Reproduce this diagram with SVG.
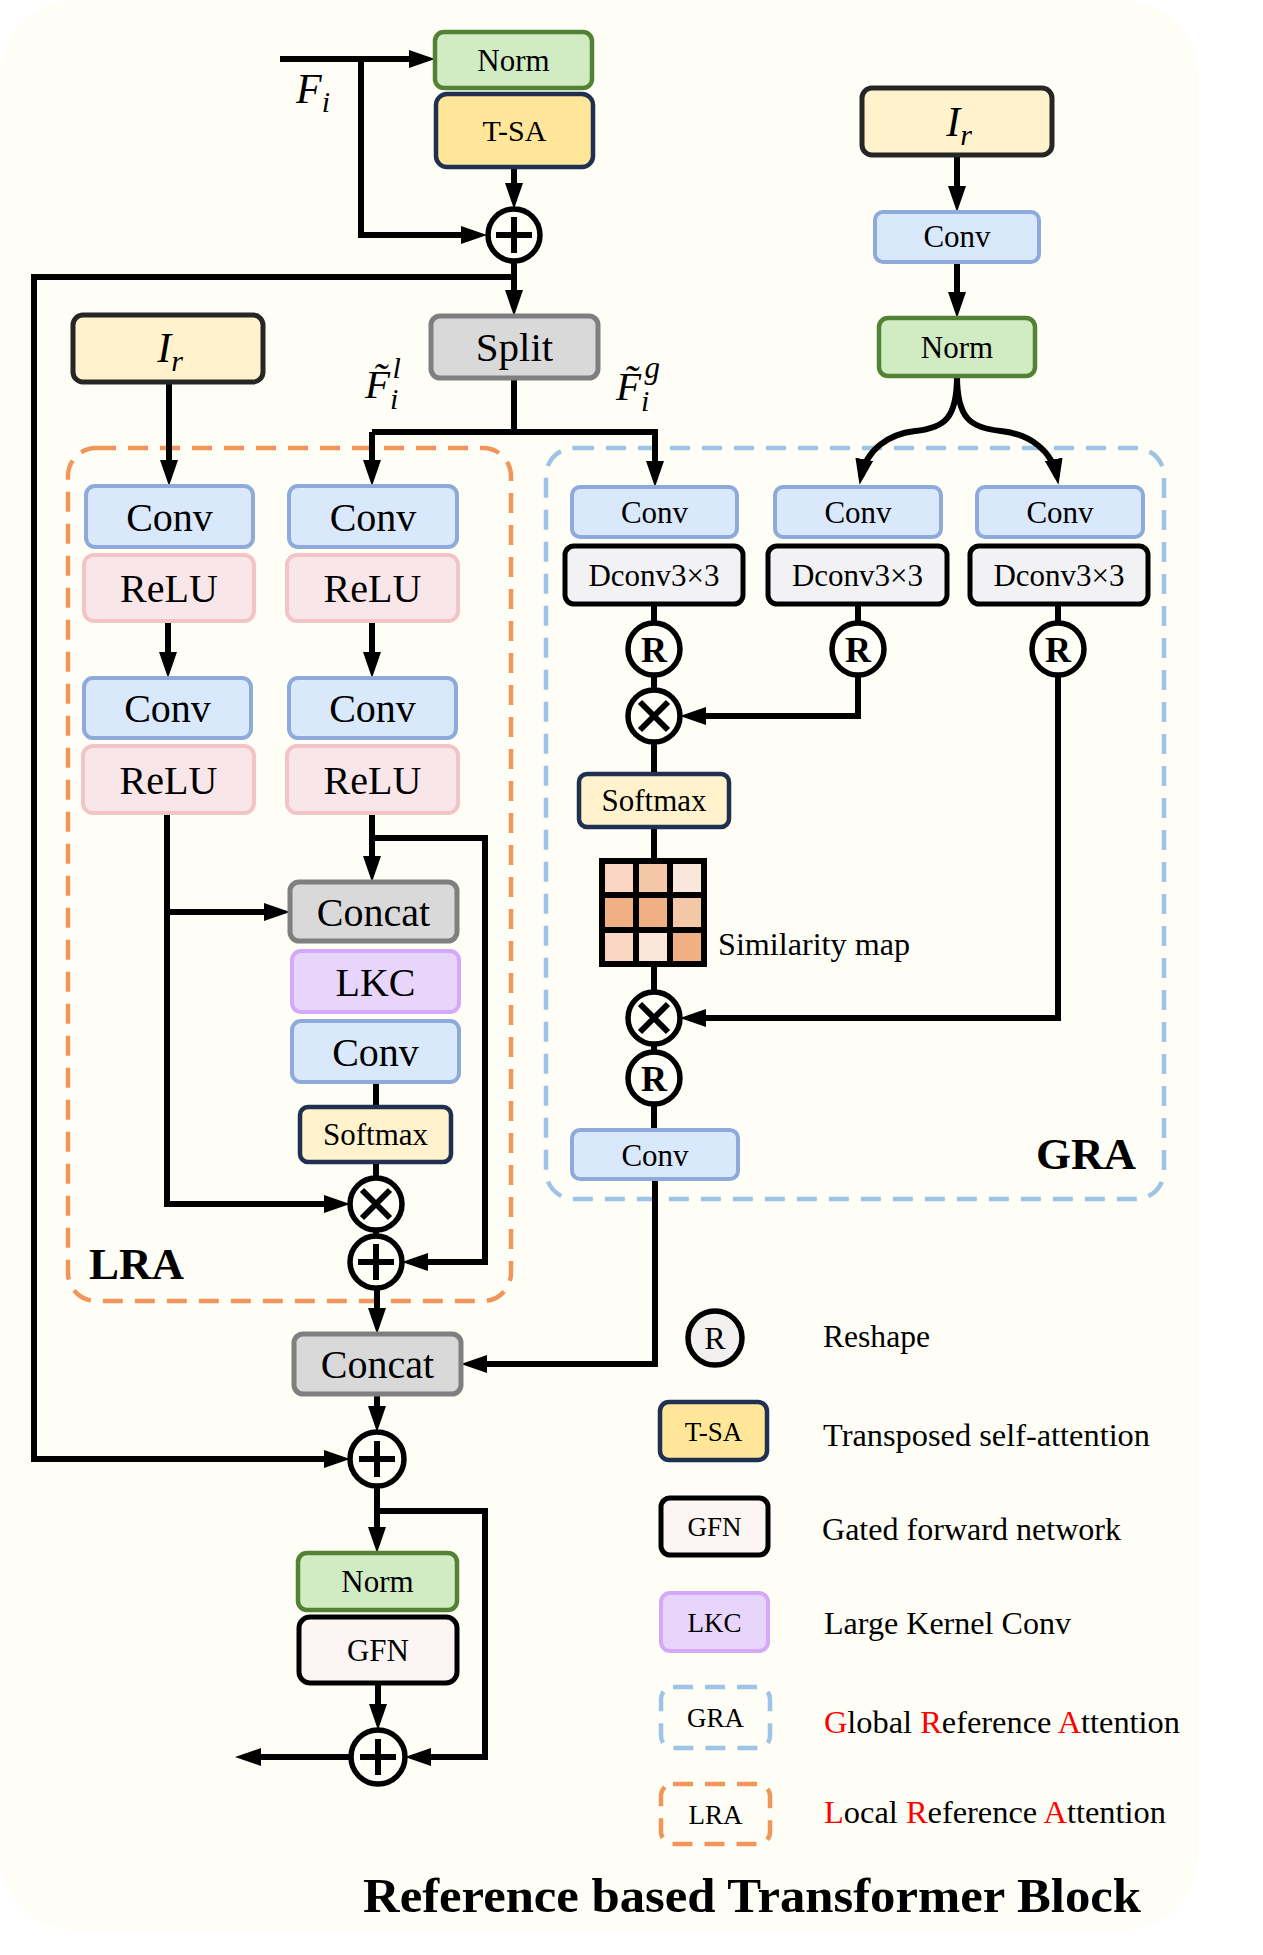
<svg xmlns="http://www.w3.org/2000/svg" width="1263" height="1955" viewBox="0 0 1263 1955">
<defs>
<marker id="ah" viewBox="0 0 26 18" refX="18" refY="9" markerWidth="26" markerHeight="18" markerUnits="userSpaceOnUse" orient="auto"><path d="M0,0 L26,9 L0,18 z" fill="#000"/></marker>
<style>
.ln{fill:none;stroke:#000;stroke-width:6}
.ar{marker-end:url(#ah)}
.conv{fill:#dae8fc;stroke:#8eaadb;stroke-width:4}
.relu{fill:#f9e6e8;stroke:#f2c4c8;stroke-width:4}
.norm{fill:#d1ebc3;stroke:#548235;stroke-width:4.5}
.tsa{fill:#ffe699;stroke:#1f3050;stroke-width:4.5}
.soft{fill:#fff2cc;stroke:#1f3050;stroke-width:4.5}
.ir{fill:#fff2cc;stroke:#262626;stroke-width:5}
.gray{fill:#d9d9d9;stroke:#7f7f7f;stroke-width:5}
.lkc{fill:#e8d5fc;stroke:#d5a8f9;stroke-width:4}
.dconv{fill:#f2f2f4;stroke:#000;stroke-width:5}
.gfn{fill:#fdf5f3;stroke:#000;stroke-width:5}
.op{fill:#fffff8;stroke:#000;stroke-width:5.5}
.sym{fill:none;stroke:#000;stroke-width:6}
.dsh-o{fill:none;stroke:#f0965a;stroke-width:4.5;stroke-dasharray:20 12}
.dsh-b{fill:none;stroke:#9dc3e6;stroke-width:4.5;stroke-dasharray:20 12}
.t{font-family:"Liberation Serif","Times New Roman",serif;text-anchor:middle;fill:#000}
.ts{font-family:"Liberation Serif","Times New Roman",serif;fill:#000}
.m{font-family:"Liberation Serif","Times New Roman",serif;font-style:italic;fill:#000}
.red{fill:#ff0000}
</style>
</defs>
<rect x="0" y="0" width="1263" height="1955" fill="#ffffff"/>
<rect x="0" y="0" width="1198" height="1930" rx="75" fill="#fefef6"/>

<!-- containers -->
<g id="LRA-box">
<rect class="dsh-o" x="68" y="448" width="443" height="853" rx="28"/>
<text class="ts" x="89" y="1279" font-size="45" font-weight="bold">LRA</text>
</g>
<g id="GRA-box">
<rect class="dsh-b" x="546" y="448" width="618" height="751" rx="28"/>
<text class="ts" x="1036" y="1169" font-size="45" font-weight="bold">GRA</text>
</g>

<!-- connectors -->
<g id="connectors">
<path class="ln ar" d="M280,59 H427"/>
<path class="ln ar" d="M361,59 V235 H479"/>
<path class="ln ar" d="M514,167 V201"/>
<path class="ln ar" d="M514,261 V308"/>
<path class="ln ar" d="M514,277 H34 V1459 H342"/>
<path class="ln" d="M514,378 V432"/>
<path class="ln ar" d="M372,432 H655 V479"/>
<path class="ln ar" d="M372,432 V478"/>
<path class="ln ar" d="M169,382 V478"/>
<path class="ln ar" d="M168,621 V670"/>
<path class="ln ar" d="M372,621 V670"/>
<path class="ln ar" d="M372,813 V874"/>
<path class="ln ar" d="M372,838 H485 V1262 H410"/>
<path class="ln ar" d="M167,813 V1204 H342"/>
<path class="ln ar" d="M167,912 H282"/>
<path class="ln" d="M376,1082 V1107"/>
<path class="ln" d="M376,1162 V1178"/>
<path class="ln" d="M376,1230 V1236"/>
<path class="ln ar" d="M377,1288 V1326"/>
<path class="ln ar" d="M655,1179 V1364 H469"/>
<path class="ln ar" d="M377,1394 V1424"/>
<path class="ln ar" d="M377,1486 V1545"/>
<path class="ln ar" d="M377,1511 H485 V1757 H413"/>
<path class="ln ar" d="M378,1683 V1722"/>
<path class="ln ar" d="M351,1757 H243"/>
<path class="ln" d="M654,604 V623 M858,604 V623 M1058,604 V623"/>
<path class="ln" d="M654,675 V690"/>
<path class="ln ar" d="M858,675 V716 H688"/>
<path class="ln" d="M654,742 V774"/>
<path class="ln" d="M654,827 V858"/>
<path class="ln" d="M654,967 V992"/>
<path class="ln ar" d="M1058,675 V1018 H688"/>
<path class="ln" d="M654,1044 V1052"/>
<path class="ln" d="M654,1104 V1130"/>
<path class="ln ar" d="M957,155 V204"/>
<path class="ln ar" d="M957,262 V310"/>
<path class="ln ar" d="M957,376 C957,418 945,428 915,431 C888,434 866,450 861,477"/>
<path class="ln ar" d="M957,376 C957,418 970,428 1001,431 C1029,434 1052,450 1057,477"/>
</g>

<!-- labels -->
<g id="label-Fi">
<text class="m" x="296" y="103" font-size="42">F<tspan font-size="30" dy="9">i</tspan></text>
</g>
<g id="label-Fl">
<text class="m" x="365" y="398" font-size="41">F̃<tspan font-size="30" dy="11">i</tspan><tspan font-size="30" dx="-6" dy="-31">l</tspan></text>
</g>
<g id="label-Fg">
<text class="m" x="616" y="400" font-size="41">F̃<tspan font-size="30" dy="11">i</tspan><tspan font-size="31" dx="-5" dy="-33">g</tspan></text>
</g>

<!-- top nodes -->
<g id="norm-top"><rect class="norm" x="435" y="32" width="157" height="56" rx="9"/><text class="t" x="513.5" y="71" font-size="31">Norm</text></g>
<g id="tsa-top"><rect class="tsa" x="436" y="94" width="157" height="73" rx="11"/><text class="t" x="514.5" y="141" font-size="30">T-SA</text></g>
<g id="add-top"><circle class="op" cx="514" cy="235" r="26"/><path class="sym" d="M496,235 H532 M514,217 V253"/></g>
<g id="split"><rect class="gray" x="431" y="316" width="167" height="62" rx="9"/><text class="t" x="514.5" y="361" font-size="41">Split</text></g>
<g id="ir-left"><rect class="ir" x="73" y="315" width="190" height="67" rx="10"/><text class="m" x="170" y="362" font-size="42" text-anchor="middle">I<tspan font-size="30" dy="9">r</tspan></text></g>
<g id="ir-right"><rect class="ir" x="862" y="88" width="190" height="67" rx="10"/><text class="m" x="959" y="136" font-size="42" text-anchor="middle">I<tspan font-size="30" dy="9">r</tspan></text></g>
<g id="conv-right"><rect class="conv" x="875" y="212" width="164" height="50" rx="8"/><text class="t" x="957" y="247" font-size="31">Conv</text></g>
<g id="norm-right"><rect class="norm" x="879" y="318" width="156" height="58" rx="9"/><text class="t" x="957" y="358" font-size="31">Norm</text></g>

<!-- LRA nodes -->
<g id="lra-conv-l1"><rect class="conv" x="86" y="486" width="167" height="61" rx="9"/><text class="t" x="169.5" y="530.5" font-size="40">Conv</text></g>
<g id="lra-relu-l1"><rect class="relu" x="84" y="555" width="170" height="66" rx="10"/><text class="t" x="169" y="602" font-size="40">ReLU</text></g>
<g id="lra-conv-l2"><rect class="conv" x="84" y="678" width="167" height="60" rx="9"/><text class="t" x="167.5" y="722" font-size="40">Conv</text></g>
<g id="lra-relu-l2"><rect class="relu" x="83" y="746" width="171" height="67" rx="10"/><text class="t" x="168.5" y="793.5" font-size="40">ReLU</text></g>
<g id="lra-conv-r1"><rect class="conv" x="289" y="486" width="168" height="61" rx="9"/><text class="t" x="373" y="530.5" font-size="40">Conv</text></g>
<g id="lra-relu-r1"><rect class="relu" x="287" y="555" width="171" height="66" rx="10"/><text class="t" x="372.5" y="602" font-size="40">ReLU</text></g>
<g id="lra-conv-r2"><rect class="conv" x="289" y="678" width="167" height="60" rx="9"/><text class="t" x="372.5" y="722" font-size="40">Conv</text></g>
<g id="lra-relu-r2"><rect class="relu" x="287" y="746" width="171" height="67" rx="10"/><text class="t" x="372.5" y="793.5" font-size="40">ReLU</text></g>
<g id="lra-concat"><rect class="gray" x="290" y="882" width="167" height="59" rx="9"/><text class="t" x="373.5" y="925.5" font-size="40">Concat</text></g>
<g id="lra-lkc"><rect class="lkc" x="292" y="951" width="167" height="61" rx="9"/><text class="t" x="375.5" y="995.5" font-size="40">LKC</text></g>
<g id="lra-conv3"><rect class="conv" x="292" y="1021" width="167" height="61" rx="9"/><text class="t" x="375.5" y="1065.5" font-size="40">Conv</text></g>
<g id="lra-softmax"><rect class="soft" x="300" y="1107" width="151" height="55" rx="8"/><text class="t" x="375.5" y="1145" font-size="31">Softmax</text></g>
<g id="lra-mul"><circle class="op" cx="376" cy="1204" r="26"/><path class="sym" d="M362,1190 L390,1218 M390,1190 L362,1218"/></g>
<g id="lra-add"><circle class="op" cx="376" cy="1262" r="26"/><path class="sym" d="M358,1262 H394 M376,1244 V1280"/></g>

<!-- bottom nodes -->
<g id="concat"><rect class="gray" x="294" y="1334" width="167" height="60" rx="9"/><text class="t" x="377.5" y="1378" font-size="40">Concat</text></g>
<g id="add-mid"><circle class="op" cx="377" cy="1459" r="27"/><path class="sym" d="M359,1459 H395 M377,1441 V1477"/></g>
<g id="norm-bottom"><rect class="norm" x="298" y="1553" width="159" height="57" rx="9"/><text class="t" x="377.5" y="1592" font-size="31">Norm</text></g>
<g id="gfn"><rect class="gfn" x="299" y="1617" width="158" height="66" rx="11"/><text class="t" x="378" y="1661" font-size="31">GFN</text></g>
<g id="add-bottom"><circle class="op" cx="378" cy="1757" r="27"/><path class="sym" d="M360,1757 H396 M378,1739 V1775"/></g>

<!-- GRA nodes -->
<g id="gra-conv1"><rect class="conv" x="572" y="487" width="165" height="50" rx="8"/><text class="t" x="654.5" y="523" font-size="31">Conv</text></g>
<g id="gra-conv2"><rect class="conv" x="775" y="487" width="166" height="50" rx="8"/><text class="t" x="858" y="523" font-size="31">Conv</text></g>
<g id="gra-conv3"><rect class="conv" x="977" y="487" width="166" height="50" rx="8"/><text class="t" x="1060" y="523" font-size="31">Conv</text></g>
<g id="gra-dconv1"><rect class="dconv" x="565" y="546" width="178" height="58" rx="9"/><text class="t" x="654" y="586" font-size="31">Dconv3×3</text></g>
<g id="gra-dconv2"><rect class="dconv" x="768" y="546" width="179" height="58" rx="9"/><text class="t" x="857.5" y="586" font-size="31">Dconv3×3</text></g>
<g id="gra-dconv3"><rect class="dconv" x="970" y="546" width="178" height="58" rx="9"/><text class="t" x="1059" y="586" font-size="31">Dconv3×3</text></g>
<g id="gra-r1"><circle class="op" cx="654" cy="649" r="26"/><text class="t" x="654" y="661.5" font-size="36" font-weight="bold">R</text></g>
<g id="gra-r2"><circle class="op" cx="858" cy="649" r="26"/><text class="t" x="858" y="661.5" font-size="36" font-weight="bold">R</text></g>
<g id="gra-r3"><circle class="op" cx="1058" cy="649" r="26"/><text class="t" x="1058" y="661.5" font-size="36" font-weight="bold">R</text></g>
<g id="gra-mul1"><circle class="op" cx="654" cy="716" r="26"/><path class="sym" d="M640,702 L668,730 M668,702 L640,730"/></g>
<g id="gra-softmax"><rect class="soft" x="579" y="774" width="150" height="53" rx="8"/><text class="t" x="654" y="811" font-size="31">Softmax</text></g>
<g id="similarity-map">
<rect x="599" y="858" width="108" height="109" fill="#000"/>
<rect x="605" y="864" width="28" height="28" fill="#f8d6c3"/>
<rect x="639" y="864" width="28" height="28" fill="#f4c7a6"/>
<rect x="673" y="864" width="28" height="28" fill="#fbe6dc"/>
<rect x="605" y="898" width="28" height="29" fill="#f0b084"/>
<rect x="639" y="898" width="28" height="29" fill="#f0b084"/>
<rect x="673" y="898" width="28" height="29" fill="#f4c7a6"/>
<rect x="605" y="933" width="28" height="28" fill="#f8d6c3"/>
<rect x="639" y="933" width="28" height="28" fill="#fbe6dc"/>
<rect x="673" y="933" width="28" height="28" fill="#f0b084"/>
<text class="ts" x="718" y="955" font-size="31" textLength="192" lengthAdjust="spacingAndGlyphs">Similarity map</text>
</g>
<g id="gra-mul2"><circle class="op" cx="654" cy="1018" r="26"/><path class="sym" d="M640,1004 L668,1032 M668,1004 L640,1032"/></g>
<g id="gra-r4"><circle class="op" cx="654" cy="1078" r="26"/><text class="t" x="654" y="1090.5" font-size="36" font-weight="bold">R</text></g>
<g id="gra-conv4"><rect class="conv" x="572" y="1130" width="166" height="49" rx="8"/><text class="t" x="655" y="1165.5" font-size="31">Conv</text></g>

<!-- legend -->
<g id="legend">
<circle cx="715" cy="1338" r="27" fill="#f2f0ee" stroke="#000" stroke-width="5.5"/>
<text class="t" x="715" y="1349" font-size="32">R</text>
<text class="ts" x="823" y="1347" font-size="31.5" textLength="107" lengthAdjust="spacingAndGlyphs">Reshape</text>
<rect class="tsa" x="660" y="1402" width="107" height="58" rx="9"/>
<text class="t" x="713.5" y="1440.5" font-size="27">T-SA</text>
<text class="ts" x="823" y="1446" font-size="31.5" textLength="327" lengthAdjust="spacingAndGlyphs">Transposed self-attention</text>
<rect class="gfn" x="661" y="1498" width="107" height="57" rx="9"/>
<text class="t" x="714.5" y="1536" font-size="27">GFN</text>
<text class="ts" x="822" y="1540" font-size="31.5" textLength="299" lengthAdjust="spacingAndGlyphs">Gated forward network</text>
<rect class="lkc" x="661" y="1593" width="107" height="58" rx="9"/>
<text class="t" x="714.5" y="1631.5" font-size="27">LKC</text>
<text class="ts" x="824" y="1634" font-size="31.5" textLength="247" lengthAdjust="spacingAndGlyphs">Large Kernel Conv</text>
<rect class="dsh-b" x="661" y="1687" width="109" height="61" rx="12"/>
<text class="t" x="715.5" y="1727" font-size="27">GRA</text>
<text class="ts" x="824" y="1733" font-size="31.5" textLength="356" lengthAdjust="spacingAndGlyphs"><tspan class="red">G</tspan>lobal <tspan class="red">R</tspan>eference <tspan class="red">A</tspan>ttention</text>
<rect class="dsh-o" x="661" y="1784" width="109" height="60" rx="12"/>
<text class="t" x="715.5" y="1823.5" font-size="27">LRA</text>
<text class="ts" x="824" y="1823" font-size="31.5" textLength="342" lengthAdjust="spacingAndGlyphs"><tspan class="red">L</tspan>ocal <tspan class="red">R</tspan>eference <tspan class="red">A</tspan>ttention</text>
</g>

<g id="title"><text class="ts" x="363" y="1912" font-size="49" font-weight="bold" textLength="778" lengthAdjust="spacingAndGlyphs">Reference based Transformer Block</text></g>
</svg>
